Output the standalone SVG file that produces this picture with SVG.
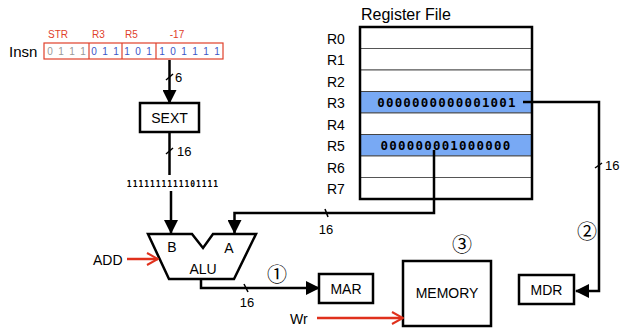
<svg xmlns="http://www.w3.org/2000/svg" width="624" height="328" viewBox="0 0 624 328">
  <style>
    text { font-family: "Liberation Sans", Arial, sans-serif; fill: #000; }
    .lbl { font-size: 14px; }
    .small { font-size: 13px; }
    .fld { font-size: 10px; fill: #e0402a; }
    .bitg { font-size: 10px; fill: #999; }
    .bitb { font-size: 10px; fill: #3b55c8; }
    .mono { font-family: "DejaVu Sans Mono", "Liberation Mono", monospace; font-weight: bold; font-size: 12.5px; letter-spacing: 1.2px; }
    .tiny { font-family: "DejaVu Sans Mono", "Liberation Mono", monospace; font-weight: bold; font-size: 8px; letter-spacing: 0.95px; }
    .circ { font-family: "Noto Sans CJK JP", "DejaVu Sans", sans-serif; font-size: 20px; }
    .box { fill: #fff; stroke: #000; stroke-width: 2.5; }
    .wire { fill: none; stroke: #000; stroke-width: 2.5; }
    .tick { stroke: #000; stroke-width: 1.5; }
    .ctl { fill: none; stroke: #e0301c; stroke-width: 2.5; }
    .row { fill: #fff; stroke: #555; stroke-width: 1; }
    .hl { fill: #78a9f4; stroke: #444; stroke-width: 1; }
  </style>
  <defs>
    <marker id="arrBig" markerWidth="14" markerHeight="14" refX="13" refY="7" orient="auto" markerUnits="userSpaceOnUse">
      <path d="M0,0 L14,7 L0,14 z" fill="#000"/>
    </marker>
    <marker id="open" markerWidth="14" markerHeight="14" refX="13" refY="7" orient="auto" markerUnits="userSpaceOnUse">
      <path d="M2,1 L13,7 L2,13" fill="none" stroke="#e0301c" stroke-width="2"/>
    </marker>
  </defs>

  <!-- instruction word -->
  <g id="insn">
    <text x="9" y="57" style="font-size:15px">Insn</text>
    <text class="fld" x="48" y="38">STR</text>
    <text class="fld" x="92" y="38">R3</text>
    <text class="fld" x="125" y="38">R5</text>
    <text class="fld" x="177" y="38" text-anchor="middle">-17</text>
    <rect x="44" y="43" width="179" height="16" fill="#fff" stroke="#e0402a" stroke-width="1.2"/>
    <line x1="89" y1="43" x2="89" y2="59" stroke="#e0402a" stroke-width="1.2"/>
    <line x1="122" y1="43" x2="122" y2="59" stroke="#e0402a" stroke-width="1.2"/>
    <line x1="156" y1="43" x2="156" y2="59" stroke="#e0402a" stroke-width="1.2"/>
    <text class="bitg" x="50 61 72 83" y="55" text-anchor="middle">0111</text>
    <text class="bitb" x="94 105 116 127 138 149 162 173 184 195 206 217" y="55" text-anchor="middle">011101101111</text>
  </g>

  <!-- sign extender -->
  <g id="sext">
    <rect class="box" x="140" y="103" width="59" height="29"/>
    <text class="lbl" x="169.5" y="123" text-anchor="middle">SEXT</text>
  </g>
  <text class="tiny" x="173" y="187" text-anchor="middle">1111111111101111</text>

  <!-- ALU -->
  <g id="alu">
    <path d="M148,234 L192,234 L203,248 L213,234 L256,234 L234,279 L169,279 Z" fill="#fff" stroke="#000" stroke-width="2.5" stroke-linejoin="miter"/>
    <text class="lbl" x="172" y="252" text-anchor="middle">B</text>
    <text class="lbl" x="229" y="253" text-anchor="middle">A</text>
    <text class="lbl" x="203" y="274" text-anchor="middle">ALU</text>
  </g>
  <text class="lbl" x="93" y="265">ADD</text>

  <!-- register file -->
  <g id="regfile">
    <text x="361" y="20" style="font-size:16px">Register File</text>
    <rect x="360" y="27" width="172" height="172" fill="#fff" stroke="none"/>
    <rect class="row" x="360" y="27" width="172" height="21.5"/>
    <rect class="row" x="360" y="48.5" width="172" height="21.5"/>
    <rect class="row" x="360" y="70" width="172" height="21.5"/>
    <rect class="hl" x="360" y="91.5" width="172" height="21.5"/>
    <rect class="row" x="360" y="113" width="172" height="21.5"/>
    <rect class="hl" x="360" y="134.5" width="172" height="21.5"/>
    <rect class="row" x="360" y="156" width="172" height="21.5"/>
    <rect class="row" x="360" y="177.5" width="172" height="21.5"/>
    <rect x="360" y="27" width="172" height="172" fill="none" stroke="#000" stroke-width="2.5"/>
    <text class="mono" x="447" y="107" text-anchor="middle">0000000000001001</text>
    <text class="mono" x="446" y="150" text-anchor="middle">000000001000000</text>
    <g class="lbl">
      <text x="327" y="44">R0</text>
      <text x="327" y="65">R1</text>
      <text x="327" y="87">R2</text>
      <text x="327" y="108">R3</text>
      <text x="327" y="130">R4</text>
      <text x="327" y="151">R5</text>
      <text x="327" y="173">R6</text>
      <text x="327" y="194">R7</text>
    </g>
  </g>

  <!-- memory-side registers and memory -->
  <g id="mar">
    <rect class="box" x="319" y="274" width="54" height="29"/>
    <text class="lbl" x="346" y="294" text-anchor="middle">MAR</text>
  </g>
  <g id="memory">
    <rect class="box" x="403" y="261" width="88" height="65"/>
    <text class="lbl" x="447" y="298" text-anchor="middle">MEMORY</text>
  </g>
  <g id="mdr">
    <rect class="box" x="519" y="275" width="55" height="29"/>
    <text class="lbl" x="546.5" y="295" text-anchor="middle">MDR</text>
  </g>
  <text x="290" y="324" class="lbl">Wr</text>

  <!-- step numbers -->
  <text class="circ" x="277" y="282" text-anchor="middle">①</text>
  <text class="circ" x="587" y="239" text-anchor="middle">②</text>
  <text class="circ" x="462" y="252" text-anchor="middle">③</text>

  <!-- connectors -->
  <g id="connectors">
    <!-- imm field to SEXT -->
    <line class="wire" x1="169.5" y1="60" x2="169.5" y2="103" marker-end="url(#arrBig)"/>
    <line class="tick" x1="166" y1="80" x2="173" y2="74"/>
    <text class="small" x="175" y="82">6</text>
    <!-- SEXT out -->
    <line class="wire" x1="169.5" y1="132" x2="169.5" y2="175"/>
    <line class="tick" x1="166" y1="154" x2="173" y2="148"/>
    <text class="small" x="177" y="156">16</text>
    <!-- extended value to ALU B -->
    <line class="wire" x1="171" y1="191" x2="171" y2="233" marker-end="url(#arrBig)"/>
    <!-- R5 to ALU A -->
    <polyline class="wire" points="434,150 434,213 234.5,213 234.5,233" marker-end="url(#arrBig)"/>
    <line class="tick" x1="325" y1="209" x2="328" y2="217"/>
    <text class="small" x="326" y="234" text-anchor="middle">16</text>
    <!-- R3 to MDR -->
    <polyline class="wire" points="523,102 599,102 599,291 576,291" marker-end="url(#arrBig)"/>
    <line class="tick" x1="595" y1="168" x2="602" y2="163"/>
    <text class="small" x="605" y="170">16</text>
    <!-- ALU out to MAR -->
    <polyline class="wire" points="201,279 201,288 319,288" marker-end="url(#arrBig)"/>
    <line class="tick" x1="244" y1="284" x2="248" y2="292"/>
    <text class="small" x="247" y="307" text-anchor="middle">16</text>
    <!-- control inputs -->
    <line class="ctl" x1="127" y1="259" x2="158" y2="259" marker-end="url(#open)"/>
    <line class="ctl" x1="317" y1="318" x2="403" y2="318" marker-end="url(#open)"/>
  </g>
</svg>
